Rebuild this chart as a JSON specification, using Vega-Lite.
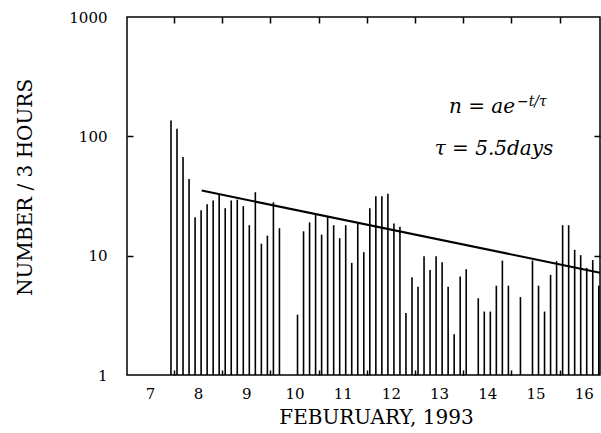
{
  "$schema": "https://vega.github.io/schema/vega-lite/v6.json",
  "width": 473,
  "height": 358,
  "autosize": "none",
  "padding": {"left": 127, "top": 17, "right": 1, "bottom": 58},
  "background": "white",
  "config": {
    "view": {"stroke": "black", "strokeWidth": 1.5},
    "axis": {"grid": false, "domain": false, "tickColor": "black", "labelColor": "black", "titleColor": "black", "labelFont": "DejaVu Serif", "titleFont": "DejaVu Serif", "titleFontWeight": "normal"}
  },
  "datasets": {
    "counts": [
      {"t": 7.9375, "n": 136}, {"t": 8.0625, "n": 116}, {"t": 8.1875, "n": 67}, {"t": 8.3125, "n": 44},
      {"t": 8.4375, "n": 21}, {"t": 8.5625, "n": 24}, {"t": 8.6875, "n": 27}, {"t": 8.8125, "n": 29},
      {"t": 8.9375, "n": 33}, {"t": 9.0625, "n": 25}, {"t": 9.1875, "n": 29}, {"t": 9.3125, "n": 29.5},
      {"t": 9.4375, "n": 26}, {"t": 9.5625, "n": 18}, {"t": 9.6875, "n": 34}, {"t": 9.8125, "n": 12.6},
      {"t": 9.9375, "n": 14.7}, {"t": 10.0625, "n": 28}, {"t": 10.1875, "n": 17},
      {"t": 10.5625, "n": 3.2}, {"t": 10.6875, "n": 16}, {"t": 10.8125, "n": 19}, {"t": 10.9375, "n": 22},
      {"t": 11.0625, "n": 15}, {"t": 11.1875, "n": 21}, {"t": 11.3125, "n": 18}, {"t": 11.4375, "n": 14},
      {"t": 11.5625, "n": 18}, {"t": 11.6875, "n": 8.7}, {"t": 11.8125, "n": 18.6}, {"t": 11.9375, "n": 10.7},
      {"t": 12.0625, "n": 25}, {"t": 12.1875, "n": 31.5}, {"t": 12.3125, "n": 31.5}, {"t": 12.4375, "n": 33},
      {"t": 12.5625, "n": 18.6}, {"t": 12.6875, "n": 17.5}, {"t": 12.8125, "n": 3.3}, {"t": 12.9375, "n": 6.6},
      {"t": 13.0625, "n": 5.5}, {"t": 13.1875, "n": 9.9}, {"t": 13.3125, "n": 7.6}, {"t": 13.4375, "n": 9.9},
      {"t": 13.5625, "n": 8.8}, {"t": 13.6875, "n": 5.5}, {"t": 13.8125, "n": 2.2}, {"t": 13.9375, "n": 6.7},
      {"t": 14.0625, "n": 7.7}, {"t": 14.3125, "n": 4.4}, {"t": 14.4375, "n": 3.4}, {"t": 14.5625, "n": 3.4},
      {"t": 14.6875, "n": 5.6}, {"t": 14.8125, "n": 9.1}, {"t": 14.9375, "n": 5.6}, {"t": 15.1875, "n": 4.5},
      {"t": 15.4375, "n": 9.1}, {"t": 15.5625, "n": 5.6}, {"t": 15.6875, "n": 3.4}, {"t": 15.8125, "n": 6.9},
      {"t": 15.9375, "n": 9.0}, {"t": 16.0625, "n": 18}, {"t": 16.1875, "n": 18}, {"t": 16.3125, "n": 11.2},
      {"t": 16.4375, "n": 10.1}, {"t": 16.5625, "n": 7.9}, {"t": 16.6875, "n": 9.2}, {"t": 16.8125, "n": 5.6}
    ],
    "fit": [{"t": 8.575, "n": 35.1}, {"t": 16.838, "n": 7.2}],
    "formula": [{"t": 15.075, "n": 157, "label": "n = ae"}],
    "exponent": [{"t": 15.116, "n": 180, "label": "−t/τ"}],
    "tau": [{"t": 14.639, "n": 70, "label": "τ = 5.5days"}]
  },
  "layer": [
    {
      "data": {"name": "counts"},
      "mark": {"type": "rule", "color": "black", "strokeWidth": 1.6},
      "encoding": {
        "x": {"field": "t", "type": "quantitative", "scale": {"domain": [7.025, 16.838], "nice": false, "zero": false},
          "axis": {"orient": "bottom", "values": [7.5, 8.5, 9.5, 10.5, 11.5, 12.5, 13.5, 14.5, 15.5, 16.5], "labelExpr": "'' + floor(datum.value)", "ticks": false, "labelPadding": 11, "labelFontSize": 15, "labelFlush": false, "labelOverlap": false,
            "title": "FEBURUARY, 1993", "titleFontSize": 20, "titleX": 249, "titleY": 48, "titleBaseline": "alphabetic", "titleAlign": "center", "titleAnchor": null}},
        "y": {"field": "n", "type": "quantitative", "scale": {"type": "log", "domain": [1, 1000], "nice": false},
          "axis": {"orient": "left", "values": [1, 10, 100, 1000], "labelExpr": "'' + datum.value", "ticks": false, "labelPadding": 20, "labelFontSize": 15, "labelBaseline": "middle", "labelFlush": false, "labelOverlap": false,
            "title": "NUMBER / 3 HOURS", "titleFontSize": 20, "titleX": -102, "titleY": 170, "titleAngle": -90, "titleBaseline": "middle", "titleAlign": "center", "titleAnchor": null}},
        "y2": {"datum": 1}
      }
    },
    {
      "data": {"name": "fit"},
      "mark": {"type": "line", "color": "black", "strokeWidth": 2},
      "encoding": {
        "x": {"field": "t", "type": "quantitative", "scale": {"domain": [7.025, 16.838], "nice": false, "zero": false},
          "axis": {"orient": "top", "values": [8, 9, 10, 11, 12, 13, 14, 15, 16], "labels": false, "ticks": true, "tickSize": 6, "tickWidth": 1.5, "offset": -6, "title": null}},
        "y": {"field": "n", "type": "quantitative", "scale": {"type": "log", "domain": [1, 1000], "nice": false},
          "axis": {"orient": "right", "values": [10, 100], "labels": false, "ticks": true, "tickSize": 6, "tickWidth": 1.5, "offset": -6, "title": null}}
      }
    },
    {
      "data": {"name": "formula"},
      "mark": {"type": "text", "font": "DejaVu Serif", "fontStyle": "italic", "fontSize": 20, "align": "right", "baseline": "alphabetic", "color": "black"},
      "encoding": {
        "x": {"field": "t", "type": "quantitative", "scale": {"domain": [7.025, 16.838], "nice": false, "zero": false},
          "axis": {"orient": "bottom", "values": [8, 9, 10, 11, 12, 13, 14, 15, 16], "labels": false, "ticks": true, "tickSize": 5, "tickWidth": 1.5, "offset": -5, "title": null}},
        "y": {"field": "n", "type": "quantitative", "scale": {"type": "log", "domain": [1, 1000], "nice": false},
          "axis": {"orient": "left", "values": [10, 100], "labels": false, "ticks": true, "tickSize": 6, "tickWidth": 1.5, "offset": -6, "title": null}},
        "text": {"field": "label"}
      }
    },
    {
      "data": {"name": "exponent"},
      "mark": {"type": "text", "font": "DejaVu Serif", "fontStyle": "italic", "fontSize": 14, "align": "left", "baseline": "alphabetic", "color": "black"},
      "encoding": {
        "x": {"field": "t", "type": "quantitative", "scale": {"domain": [7.025, 16.838], "nice": false, "zero": false}, "axis": null},
        "y": {"field": "n", "type": "quantitative", "scale": {"type": "log", "domain": [1, 1000], "nice": false}, "axis": null},
        "text": {"field": "label"}
      }
    },
    {
      "data": {"name": "tau"},
      "mark": {"type": "text", "font": "DejaVu Serif", "fontStyle": "italic", "fontSize": 20, "align": "center", "baseline": "alphabetic", "color": "black"},
      "encoding": {
        "x": {"field": "t", "type": "quantitative", "scale": {"domain": [7.025, 16.838], "nice": false, "zero": false}, "axis": null},
        "y": {"field": "n", "type": "quantitative", "scale": {"type": "log", "domain": [1, 1000], "nice": false}, "axis": null},
        "text": {"field": "label"}
      }
    }
  ],
  "resolve": {"axis": {"x": "independent", "y": "independent"}}
}
